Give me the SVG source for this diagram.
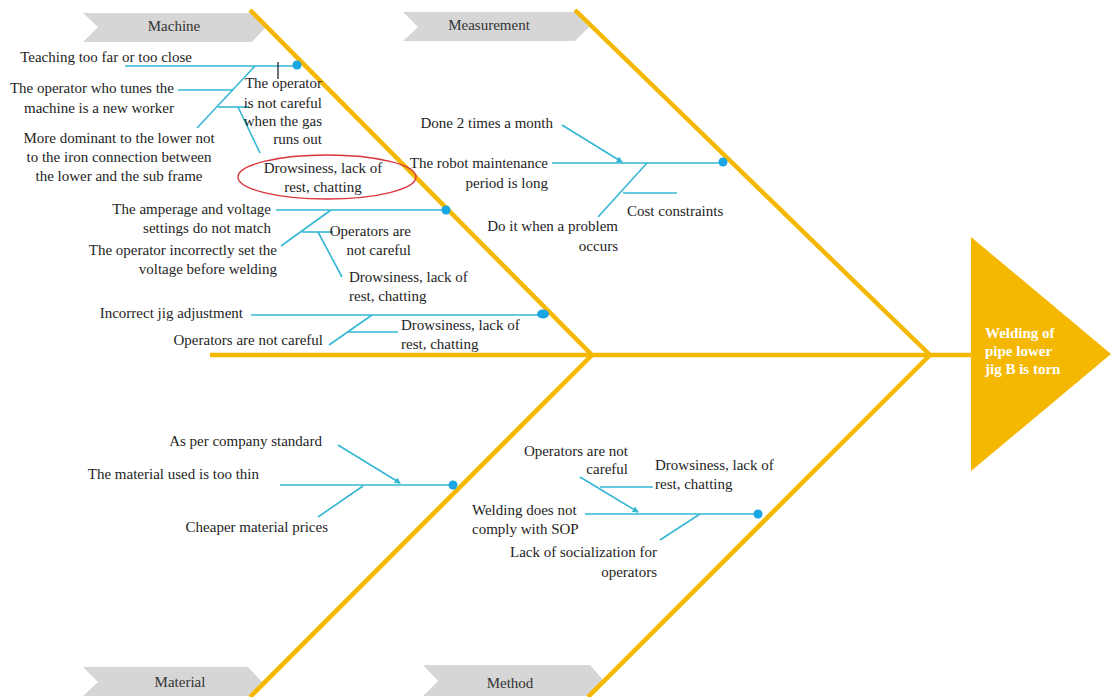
<svg xmlns="http://www.w3.org/2000/svg" width="1111" height="697" viewBox="0 0 1111 697">
<defs>
<style>
.lbl{fill:#D6D6D6}
.bone{stroke:#F5B800;stroke-width:4.5;fill:none;stroke-linecap:butt}
.c{stroke:#35B7D4;stroke-width:1.6;fill:none}
.dot{fill:#1AA6E2}
text{font-family:"Liberation Serif","Times New Roman",serif;font-size:15px;fill:#1e1e1e}
.lt{fill:#333}
.r{text-anchor:end}
.m{text-anchor:middle}
.head{font-weight:bold;fill:#fff;font-size:15px}
</style>
<marker id="tk" viewBox="0 0 6 6" refX="5" refY="3" markerWidth="4" markerHeight="4" orient="auto">
<path d="M0,0 L6,3 L0,6 z" fill="#35B7D4"/>
</marker>
</defs>

<g id="label-machine">
<polygon class="lbl" points="83,13 252,13 266,27 252,42 83,42 98,27"/>
<text class="m lt" x="174" y="31">Machine</text>
</g>
<g id="label-measurement">
<polygon class="lbl" points="403,12 575,12 589,27 575,41 403,41 418,27"/>
<text class="m lt" x="489" y="30">Measurement</text>
</g>
<g id="label-material">
<polygon class="lbl" points="83,667 248,667 262,682 248,696 83,696 98,682"/>
<text class="m lt" x="180" y="687">Material</text>
</g>
<g id="label-method">
<polygon class="lbl" points="423,665 590,665 604,681 590,696 423,696 438,681"/>
<text class="m lt" x="510" y="688">Method</text>
</g>

<g id="skeleton">
<line class="bone" x1="210" y1="355" x2="972" y2="355"/>
<line class="bone" x1="250" y1="10" x2="592" y2="355"/>
<line class="bone" x1="575" y1="10" x2="930" y2="355"/>
<line class="bone" x1="592" y1="355" x2="250" y2="697"/>
<line class="bone" x1="930" y1="355" x2="588" y2="697"/>
</g>

<g id="head">
<polygon points="971,237 1111,354 971,471" fill="#F5B800"/>
<text class="head" x="985" y="338">Welding of</text>
<text class="head" x="985" y="356">pipe lower</text>
<text class="head" x="985" y="374">jig B is torn</text>
</g>

<g id="connectors">
<!-- Machine branch 1 -->
<line class="c" x1="125" y1="66" x2="297" y2="66"/>
<line class="c" x1="255" y1="66" x2="197" y2="128"/>
<line class="c" x1="178" y1="90" x2="233" y2="90"/>
<line class="c" x1="218" y1="107" x2="249" y2="107"/>
<line class="c" x1="238" y1="107" x2="260" y2="153"/>
<line x1="278" y1="62" x2="278" y2="79" stroke="#111" stroke-width="1.2"/>
<!-- Machine branch 2 -->
<line class="c" x1="276" y1="210" x2="446" y2="210"/>
<line class="c" x1="331" y1="210" x2="281" y2="246"/>
<line class="c" x1="302" y1="232" x2="333" y2="232"/>
<line class="c" x1="318" y1="232" x2="342" y2="277"/>
<!-- Machine branch 3 -->
<line class="c" x1="251" y1="315" x2="543" y2="315"/>
<line class="c" x1="372" y1="315" x2="329" y2="345"/>
<line class="c" x1="348" y1="332" x2="398" y2="332"/>
<!-- Measurement -->
<line class="c" x1="552" y1="163" x2="723" y2="163"/>
<line class="c" x1="562" y1="125" x2="622" y2="162" marker-end="url(#tk)"/>
<line class="c" x1="647" y1="163" x2="598" y2="217"/>
<line class="c" x1="623" y1="193" x2="677" y2="193"/>
<!-- Material -->
<line class="c" x1="280" y1="485" x2="453" y2="485"/>
<line class="c" x1="338" y1="445" x2="400" y2="483" marker-end="url(#tk)"/>
<line class="c" x1="363" y1="486" x2="318" y2="517"/>
<!-- Method -->
<line class="c" x1="585" y1="514" x2="758" y2="514"/>
<line class="c" x1="580" y1="477" x2="638" y2="512" marker-end="url(#tk)"/>
<line class="c" x1="600" y1="487" x2="653" y2="487"/>
<line class="c" x1="700" y1="514" x2="660" y2="540"/>
</g>

<g id="dots">
<circle class="dot" cx="297" cy="65" r="4.5"/>
<circle class="dot" cx="446" cy="210" r="4.5"/>
<ellipse class="dot" cx="543" cy="314" rx="6" ry="4.5"/>
<circle class="dot" cx="723" cy="162" r="4.5"/>
<circle class="dot" cx="453" cy="485" r="4.5"/>
<circle class="dot" cx="758" cy="514" r="4.5"/>
</g>

<g id="machine-causes">
<text class="r" x="192" y="62">Teaching too far or too close</text>
<text class="r" x="174" y="93">The operator who tunes the</text>
<text class="r" x="174" y="113">machine is a new worker</text>
<text class="m" x="119" y="143">More dominant to the lower not</text>
<text class="m" x="119" y="162">to the iron connection between</text>
<text class="m" x="119" y="181">the lower and the sub frame</text>
<text class="r" x="322" y="88">The operator</text>
<text class="r" x="322" y="108">is not careful</text>
<text class="r" x="322" y="126">when the gas</text>
<text class="r" x="322" y="144">runs out</text>
<ellipse cx="327" cy="177" rx="89" ry="22" fill="none" stroke="#D9343C" stroke-width="1.4"/>
<text class="m" x="323" y="173">Drowsiness, lack of</text>
<text class="m" x="323" y="192">rest, chatting</text>
<text class="r" x="271" y="214">The amperage and voltage</text>
<text class="r" x="271" y="233">settings do not match</text>
<text class="r" x="277" y="255">The operator incorrectly set the</text>
<text class="r" x="277" y="274">voltage before welding</text>
<text class="r" x="411" y="236">Operators are</text>
<text class="r" x="411" y="255">not careful</text>
<text x="349" y="282">Drowsiness, lack of</text>
<text x="349" y="301">rest, chatting</text>
<text class="r" x="243" y="318">Incorrect jig adjustment</text>
<text class="r" x="323" y="345">Operators are not careful</text>
<text x="401" y="330">Drowsiness, lack of</text>
<text x="401" y="349">rest, chatting</text>
</g>

<g id="measurement-causes">
<text class="r" x="553" y="128">Done 2 times a month</text>
<text class="r" x="548" y="168">The robot maintenance</text>
<text class="r" x="548" y="188">period is long</text>
<text x="627" y="216">Cost constraints</text>
<text class="r" x="618" y="231">Do it when a problem</text>
<text class="r" x="618" y="251">occurs</text>
</g>

<g id="material-causes">
<text class="r" x="322" y="446">As per company standard</text>
<text class="r" x="259" y="479">The material used is too thin</text>
<text class="r" x="328" y="532">Cheaper material prices</text>
</g>

<g id="method-causes">
<text class="r" x="628" y="456">Operators are not</text>
<text class="r" x="628" y="474">careful</text>
<text x="655" y="470">Drowsiness, lack of</text>
<text x="655" y="489">rest, chatting</text>
<text x="472" y="515">Welding does not</text>
<text x="472" y="534">comply with SOP</text>
<text class="r" x="657" y="557">Lack of socialization for</text>
<text class="r" x="657" y="577">operators</text>
</g>
</svg>
